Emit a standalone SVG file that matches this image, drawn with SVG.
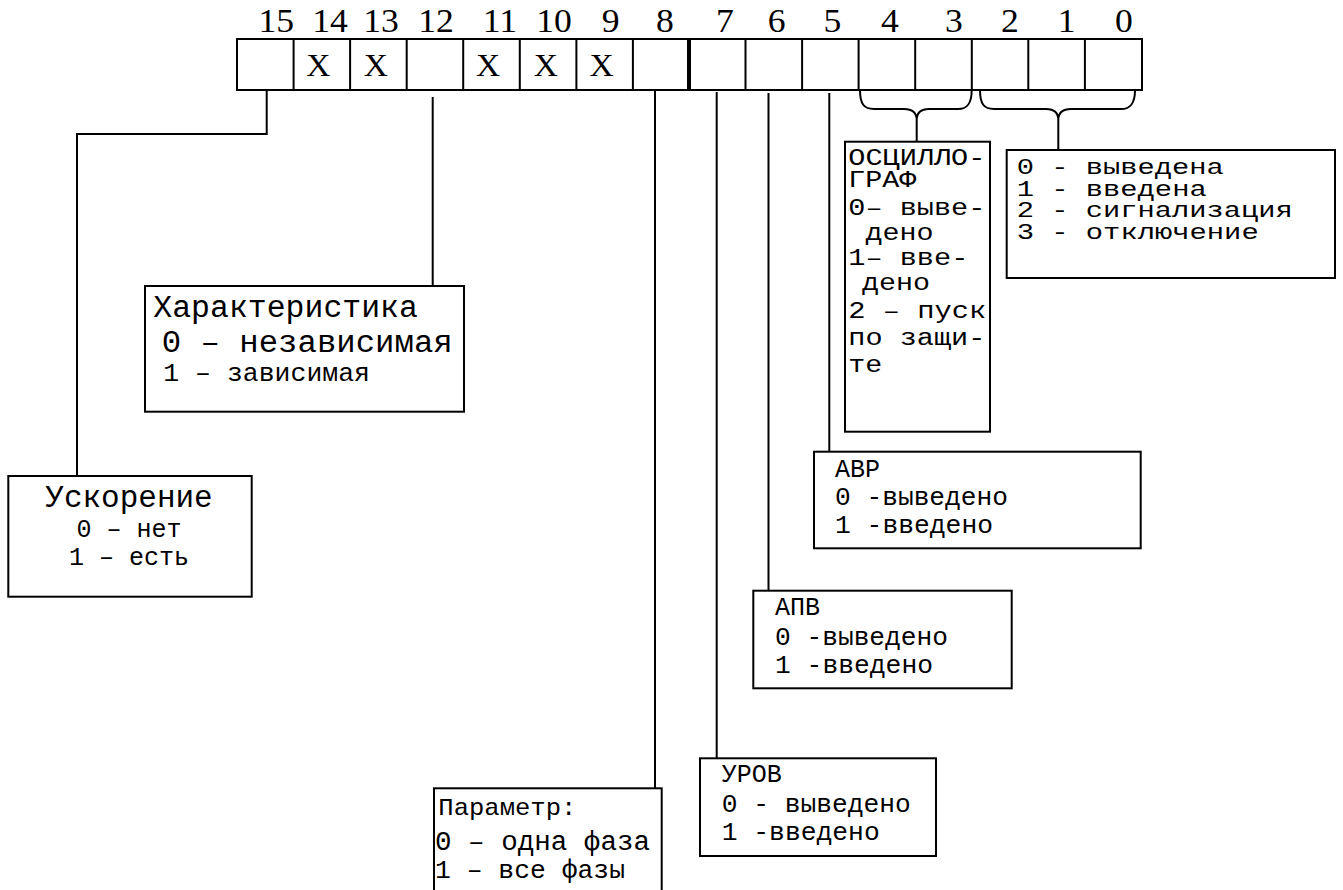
<svg xmlns="http://www.w3.org/2000/svg" width="1343" height="890" viewBox="0 0 1343 890">
<style>
.bg{fill:#fff}
.ln{fill:none;stroke:#000;stroke-width:2}
.box{fill:#fff;stroke:#000;stroke-width:2}
.num{font-family:"Liberation Serif","Times New Roman",serif;font-size:33px;text-anchor:middle;fill:#000}
.x{font-family:"Liberation Serif","Times New Roman",serif;font-size:31px;text-anchor:middle;fill:#000}
.m{font-family:"Liberation Mono","Courier New",monospace;fill:#000}
</style>
<rect class="bg" x="0" y="0" width="1343" height="890"/>
<g id="register">
<rect class="box" x="237" y="39" width="905" height="51"/>
<path class="ln" d="M293.6,39V90M350.1,39V90M406.7,39V90M463.2,39V90M519.8,39V90M576.4,39V90M632.9,39V90M745.5,39V90M802.1,39V90M858.6,39V90M915.2,39V90M971.8,39V90M1028.3,39V90M1084.9,39V90"/>
<path d="M689,39V90" stroke="#000" stroke-width="4" fill="none"/>
<g transform="translate(276.3,32) scale(1.08,1)"><text class="num">15</text></g>
<g transform="translate(330,32) scale(1.08,1)"><text class="num">14</text></g>
<g transform="translate(381,32) scale(1.08,1)"><text class="num">13</text></g>
<g transform="translate(436,32) scale(1.08,1)"><text class="num">12</text></g>
<g transform="translate(500,32) scale(1.08,1)"><text class="num">11</text></g>
<g transform="translate(554,32) scale(1.08,1)"><text class="num">10</text></g>
<g transform="translate(610.7,32) scale(1.08,1)"><text class="num">9</text></g>
<g transform="translate(665,32) scale(1.08,1)"><text class="num">8</text></g>
<g transform="translate(725,32) scale(1.08,1)"><text class="num">7</text></g>
<g transform="translate(776.7,32) scale(1.08,1)"><text class="num">6</text></g>
<g transform="translate(832.5,32) scale(1.08,1)"><text class="num">5</text></g>
<g transform="translate(890,32) scale(1.08,1)"><text class="num">4</text></g>
<g transform="translate(954,32) scale(1.08,1)"><text class="num">3</text></g>
<g transform="translate(1010,32) scale(1.08,1)"><text class="num">2</text></g>
<g transform="translate(1066.7,32) scale(1.08,1)"><text class="num">1</text></g>
<g transform="translate(1124,32) scale(1.08,1)"><text class="num">0</text></g>
<g transform="translate(318.3,76) scale(1.08,1)"><text class="x">X</text></g>
<g transform="translate(375.8,76) scale(1.08,1)"><text class="x">X</text></g>
<g transform="translate(488,76) scale(1.08,1)"><text class="x">X</text></g>
<g transform="translate(545.8,76) scale(1.08,1)"><text class="x">X</text></g>
<g transform="translate(601.7,76) scale(1.08,1)"><text class="x">X</text></g>
</g>
<g id="connectors">
<path class="ln" d="M266.7,90V134H77V476"/>
<path class="ln" d="M432.7,97V286"/>
<path class="ln" d="M655,90V788.3"/>
<path class="ln" d="M716.7,92V758.3"/>
<path class="ln" d="M768.5,93V590.7"/>
<path class="ln" d="M829.3,93V451.7"/>
<path class="ln" d="M860,90C860,104 864,109 874,109H904C912,109 916.7,112 916.7,120C916.7,112 921,109 929,109H958C967,109 971.7,104 971.7,90M916.7,120V141.7"/>
<path class="ln" d="M980,90C980,104 984,109 994,109H1046C1054,109 1058.3,112 1058.3,120C1058.3,112 1063,109 1071,109H1121C1130,109 1135,104 1135,90M1058.3,120V150"/>
</g>
<g id="node-osc">
<rect class="box" x="845" y="141.7" width="145" height="290"/>
<g class="m" font-size="23">
<text x="848.3" y="165" textLength="137" lengthAdjust="spacingAndGlyphs">ОСЦИЛЛО-</text>
<text x="848.3" y="186.7" textLength="68" lengthAdjust="spacingAndGlyphs">ГРАФ</text>
<text x="848.3" y="215" textLength="137" lengthAdjust="spacingAndGlyphs">0– выве-</text>
<text x="865.5" y="240" textLength="68" lengthAdjust="spacingAndGlyphs">дено</text>
<text x="848.3" y="265" textLength="120" lengthAdjust="spacingAndGlyphs">1– вве-</text>
<text x="862" y="290" textLength="68" lengthAdjust="spacingAndGlyphs">дено</text>
<text x="848.3" y="318" textLength="138" lengthAdjust="spacingAndGlyphs">2 – пуск</text>
<text x="848.3" y="345" textLength="137" lengthAdjust="spacingAndGlyphs">по защи-</text>
<text x="848.3" y="371.7" textLength="34" lengthAdjust="spacingAndGlyphs">те</text>
</g>
</g>
<g id="node-mode">
<rect class="box" x="1006.7" y="150" width="328.3" height="128"/>
<g class="m" font-size="22">
<text x="1016.7" y="174" textLength="207" lengthAdjust="spacingAndGlyphs">0 - выведена</text>
<text x="1016.7" y="195.5" textLength="190" lengthAdjust="spacingAndGlyphs">1 - введена</text>
<text x="1016.7" y="217" textLength="276" lengthAdjust="spacingAndGlyphs">2 - сигнализация</text>
<text x="1016.7" y="238.5" textLength="242" lengthAdjust="spacingAndGlyphs">3 - отключение</text>
</g>
</g>
<g id="node-char">
<rect class="box" x="145" y="286" width="319" height="125.7"/>
<text class="m" font-size="31" x="153.3" y="316.7" textLength="264.6" lengthAdjust="spacingAndGlyphs">Характеристика</text>
<text class="m" font-size="31" x="161.7" y="351.7" textLength="291" lengthAdjust="spacingAndGlyphs">0 – независимая</text>
<text class="m" font-size="25" x="163.3" y="381" textLength="206.7" lengthAdjust="spacingAndGlyphs">1 – зависимая</text>
</g>
<g id="node-accel">
<rect class="box" x="8.3" y="476" width="243.4" height="120.7"/>
<text class="m" font-size="31" x="129" y="506.7" text-anchor="middle">Ускорение</text>
<text class="m" font-size="25" x="129" y="536.7" text-anchor="middle">0 – нет</text>
<text class="m" font-size="25" x="129" y="565" text-anchor="middle">1 – есть</text>
</g>
<g id="node-param">
<rect class="box" x="434" y="788.3" width="227.7" height="110"/>
<text class="m" font-size="24" x="438.3" y="815" textLength="138" lengthAdjust="spacingAndGlyphs">Параметр:</text>
<text class="m" font-size="27" x="435" y="850" textLength="215" lengthAdjust="spacingAndGlyphs">0 – одна фаза</text>
<text class="m" font-size="26" x="435" y="878" textLength="190" lengthAdjust="spacingAndGlyphs">1 – все фазы</text>
</g>
<g id="node-urov">
<rect class="box" x="700" y="758.3" width="236" height="97.7"/>
<g class="m" font-size="25">
<text x="721.7" y="781.7">УРОВ</text>
<text x="721.7" y="811.7" textLength="189" lengthAdjust="spacingAndGlyphs">0 - выведено</text>
<text x="721.7" y="840" textLength="158" lengthAdjust="spacingAndGlyphs">1 -введено</text>
</g>
</g>
<g id="node-apv">
<rect class="box" x="753.3" y="590.7" width="258.4" height="97.6"/>
<g class="m" font-size="25">
<text x="775" y="615">АПВ</text>
<text x="775" y="645" textLength="173" lengthAdjust="spacingAndGlyphs">0 -выведено</text>
<text x="775" y="673.3" textLength="158" lengthAdjust="spacingAndGlyphs">1 -введено</text>
</g>
</g>
<g id="node-avr">
<rect class="box" x="814" y="451.7" width="326.7" height="96.6"/>
<g class="m" font-size="25">
<text x="835" y="476.7">АВР</text>
<text x="835" y="505" textLength="173" lengthAdjust="spacingAndGlyphs">0 -выведено</text>
<text x="835" y="533.3" textLength="158" lengthAdjust="spacingAndGlyphs">1 -введено</text>
</g>
</g>
</svg>
